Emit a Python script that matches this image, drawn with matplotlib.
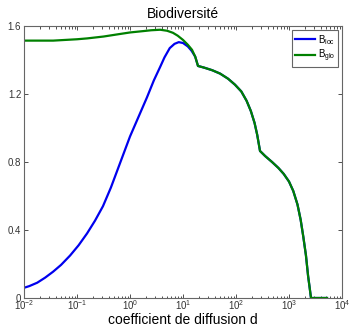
import numpy as np
import matplotlib
matplotlib.use("Agg")
import matplotlib.pyplot as plt
from matplotlib.ticker import LogLocator, FixedLocator, NullFormatter

# log10 of the diffusion coefficient d, and biodiversity values
blue_logd = [-2.0, -1.9, -1.75, -1.6, -1.45, -1.3, -1.13, -0.97, -0.81, -0.66, -0.51, -0.36,
             -0.21, 0.0, 0.32, 0.45, 0.57, 0.65, 0.75, 0.84, 0.92, 1.0, 1.09, 1.16, 1.23, 1.283]
blue_val = [0.06, 0.07, 0.09, 0.12, 0.155, 0.195, 0.25, 0.31, 0.38, 0.455, 0.54, 0.65,
            0.775, 0.95, 1.18, 1.28, 1.36, 1.415, 1.47, 1.495, 1.505, 1.50, 1.48, 1.455, 1.42, 1.365]

green_logd = [-2.0, -1.45, -1.0, -0.81, -0.5, -0.19, 0.0, 0.25, 0.4, 0.57, 0.7, 0.81,
              0.9, 1.0, 1.09, 1.17, 1.23, 1.283]
green_val = [1.514, 1.514, 1.522, 1.527, 1.538, 1.553, 1.562, 1.57, 1.575, 1.578, 1.572, 1.56,
             1.543, 1.518, 1.49, 1.46, 1.42, 1.365]

shared_logd = [1.283, 1.40, 1.55, 1.70, 1.85, 1.98, 2.10, 2.20, 2.28, 2.35, 2.40, 2.453,
               2.55, 2.68, 2.80, 2.90, 3.00, 3.08, 3.16, 3.22, 3.27, 3.32, 3.36, 3.39,
               3.415, 3.717]
shared_val = [1.365, 1.355, 1.34, 1.32, 1.29, 1.255, 1.215, 1.16, 1.10, 1.03, 0.96, 0.865,
              0.835, 0.80, 0.765, 0.73, 0.685, 0.63, 0.55, 0.46, 0.36, 0.25, 0.13, 0.06,
              0.0, 0.0]

yticks = [0, 0.4, 0.8, 1.2, 1.6]
ytick_labels = ["0", "0.4", "0.8", "1.2", "1.6"]

plt.rcParams['font.family'] = ['Liberation Sans', 'DejaVu Sans']
plt.rcParams['mathtext.fontset'] = 'custom'
plt.rcParams['mathtext.rm'] = 'Liberation Sans'
plt.rcParams['mathtext.it'] = 'Liberation Sans'
plt.rcParams['mathtext.default'] = 'regular'

fig = plt.figure(figsize=(3.49, 3.27), dpi=100)
ax = fig.add_axes([24/349, 29/327, 318/349, 272/327])

d_blue = 10.0 ** np.array(blue_logd + shared_logd[1:])
v_blue = np.array(blue_val + shared_val[1:])
d_green = 10.0 ** np.array(green_logd + shared_logd[1:])
v_green = np.array(green_val + shared_val[1:])

ax.plot(d_blue, v_blue, color='#0000ee', lw=1.6, label=r'B$_{loc}$',
        solid_joinstyle='round')
ax.plot(d_green, v_green, color='#008000', lw=1.6, label=r'B$_{glo}$',
        solid_joinstyle='round')

ax.set_xscale('log')
ax.set_xlim(1e-2, 1e4)
ax.set_ylim(0, 1.6)
ax.yaxis.set_major_locator(FixedLocator(yticks))
ax.set_yticklabels(ytick_labels)
ax.xaxis.set_major_locator(LogLocator(base=10, numticks=10))
ax.xaxis.set_minor_locator(LogLocator(base=10, subs=np.arange(2, 10), numticks=10))
ax.xaxis.set_minor_formatter(NullFormatter())

ax.tick_params(which='both', direction='in', top=True, right=True, labelsize=7,
               colors='#333333', length=3, width=0.6)
ax.tick_params(which='minor', length=1.8)
ax.tick_params(axis='x', pad=0.5)
ax.tick_params(axis='y', pad=2)
for s in ax.spines.values():
    s.set_color('#666666')
    s.set_linewidth(0.8)

ax.set_title('Biodiversité', fontsize=10, pad=6)
ax.set_xlabel('coefficient de diffusion d', fontsize=10, labelpad=0.5)

leg = ax.legend(loc='upper right', fontsize=7, handlelength=2.0, handletextpad=0.3,
                borderpad=0.3, labelspacing=0.15, fancybox=False, framealpha=1,
                borderaxespad=0.4)
leg.get_frame().set_edgecolor('#666666')
leg.get_frame().set_linewidth(0.8)

fig.savefig('out.png', dpi=100)
